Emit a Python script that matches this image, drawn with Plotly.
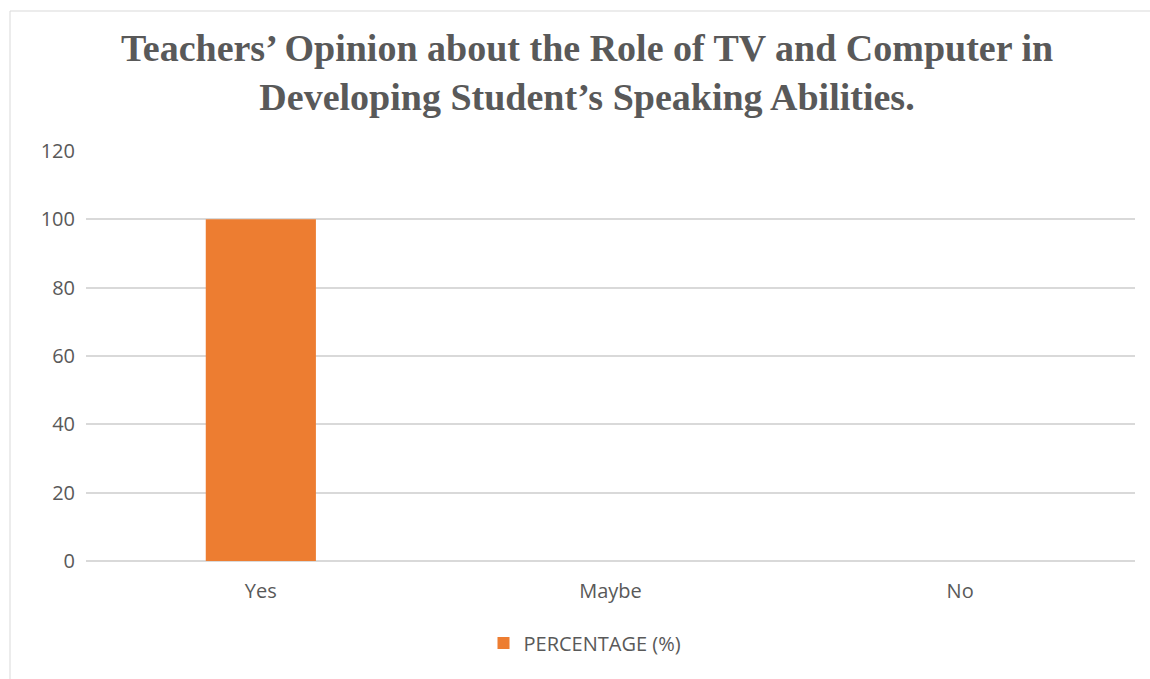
import plotly.graph_objects as go

categories = ["Yes", "Maybe", "No"]
percentage = [100, 0, 0]
y_ticks = [0, 20, 40, 60, 80, 100, 120]

W, H = 1150, 679
L, R, T, B = 86, 15, 151, 118
pw, ph = W - L - R, H - T - B

def px_x(x):
    return (x - L) / pw

def px_y(y):
    return (H - B - y) / ph

fig = go.Figure()
fig.add_trace(go.Bar(
    x=categories, y=percentage, name="PERCENTAGE (%)",
    marker=dict(color="#ED7D31", line=dict(width=0)),
))

fig.update_layout(
    width=W, height=H,
    margin=dict(l=L, r=R, t=T, b=B),
    paper_bgcolor="white", plot_bgcolor="white",
    bargap=0.685,
    font=dict(family="'Open Sans', sans-serif", size=20, color="#595959"),
    title=dict(
        text="Teachers’ Opinion about the Role of TV and Computer in<br>Developing Student’s Speaking Abilities.",
        font=dict(family="'Liberation Serif', 'Times New Roman', serif", size=38, color="#595959", weight="bold"),
        x=px_x(587), xanchor="center", xref="paper",
        y=1 - 61 / H, yanchor="middle", yref="container",
    ),
    showlegend=True,
    legend=dict(
        orientation="h", x=px_x(585), xanchor="center",
        y=px_y(643), yanchor="middle",
        font=dict(size=20, color="#595959"),
        itemwidth=30,
    ),
    shapes=[dict(
        type="rect", xref="paper", yref="paper",
        x0=px_x(10), x1=px_x(1200), y0=px_y(760), y1=px_y(11),
        line=dict(color="#d9d9d9", width=1), fillcolor="rgba(0,0,0,0)", layer="below",
    )],
)

fig.update_xaxes(
    showgrid=False, showline=False, zeroline=False,
    ticks="outside", ticklen=12, tickcolor="rgba(0,0,0,0)",
    tickfont=dict(size=20, color="#595959"),
)
fig.update_yaxes(
    range=[0, 120], tickvals=y_ticks,
    showgrid=True, gridcolor="#d9d9d9", gridwidth=1.5,
    zeroline=True, zerolinecolor="#d9d9d9", zerolinewidth=1.5,
    showline=False,
    ticks="outside", ticklen=6, tickcolor="rgba(0,0,0,0)",
    tickfont=dict(size=20, color="#595959"),
)

fig.write_html("out.html")
